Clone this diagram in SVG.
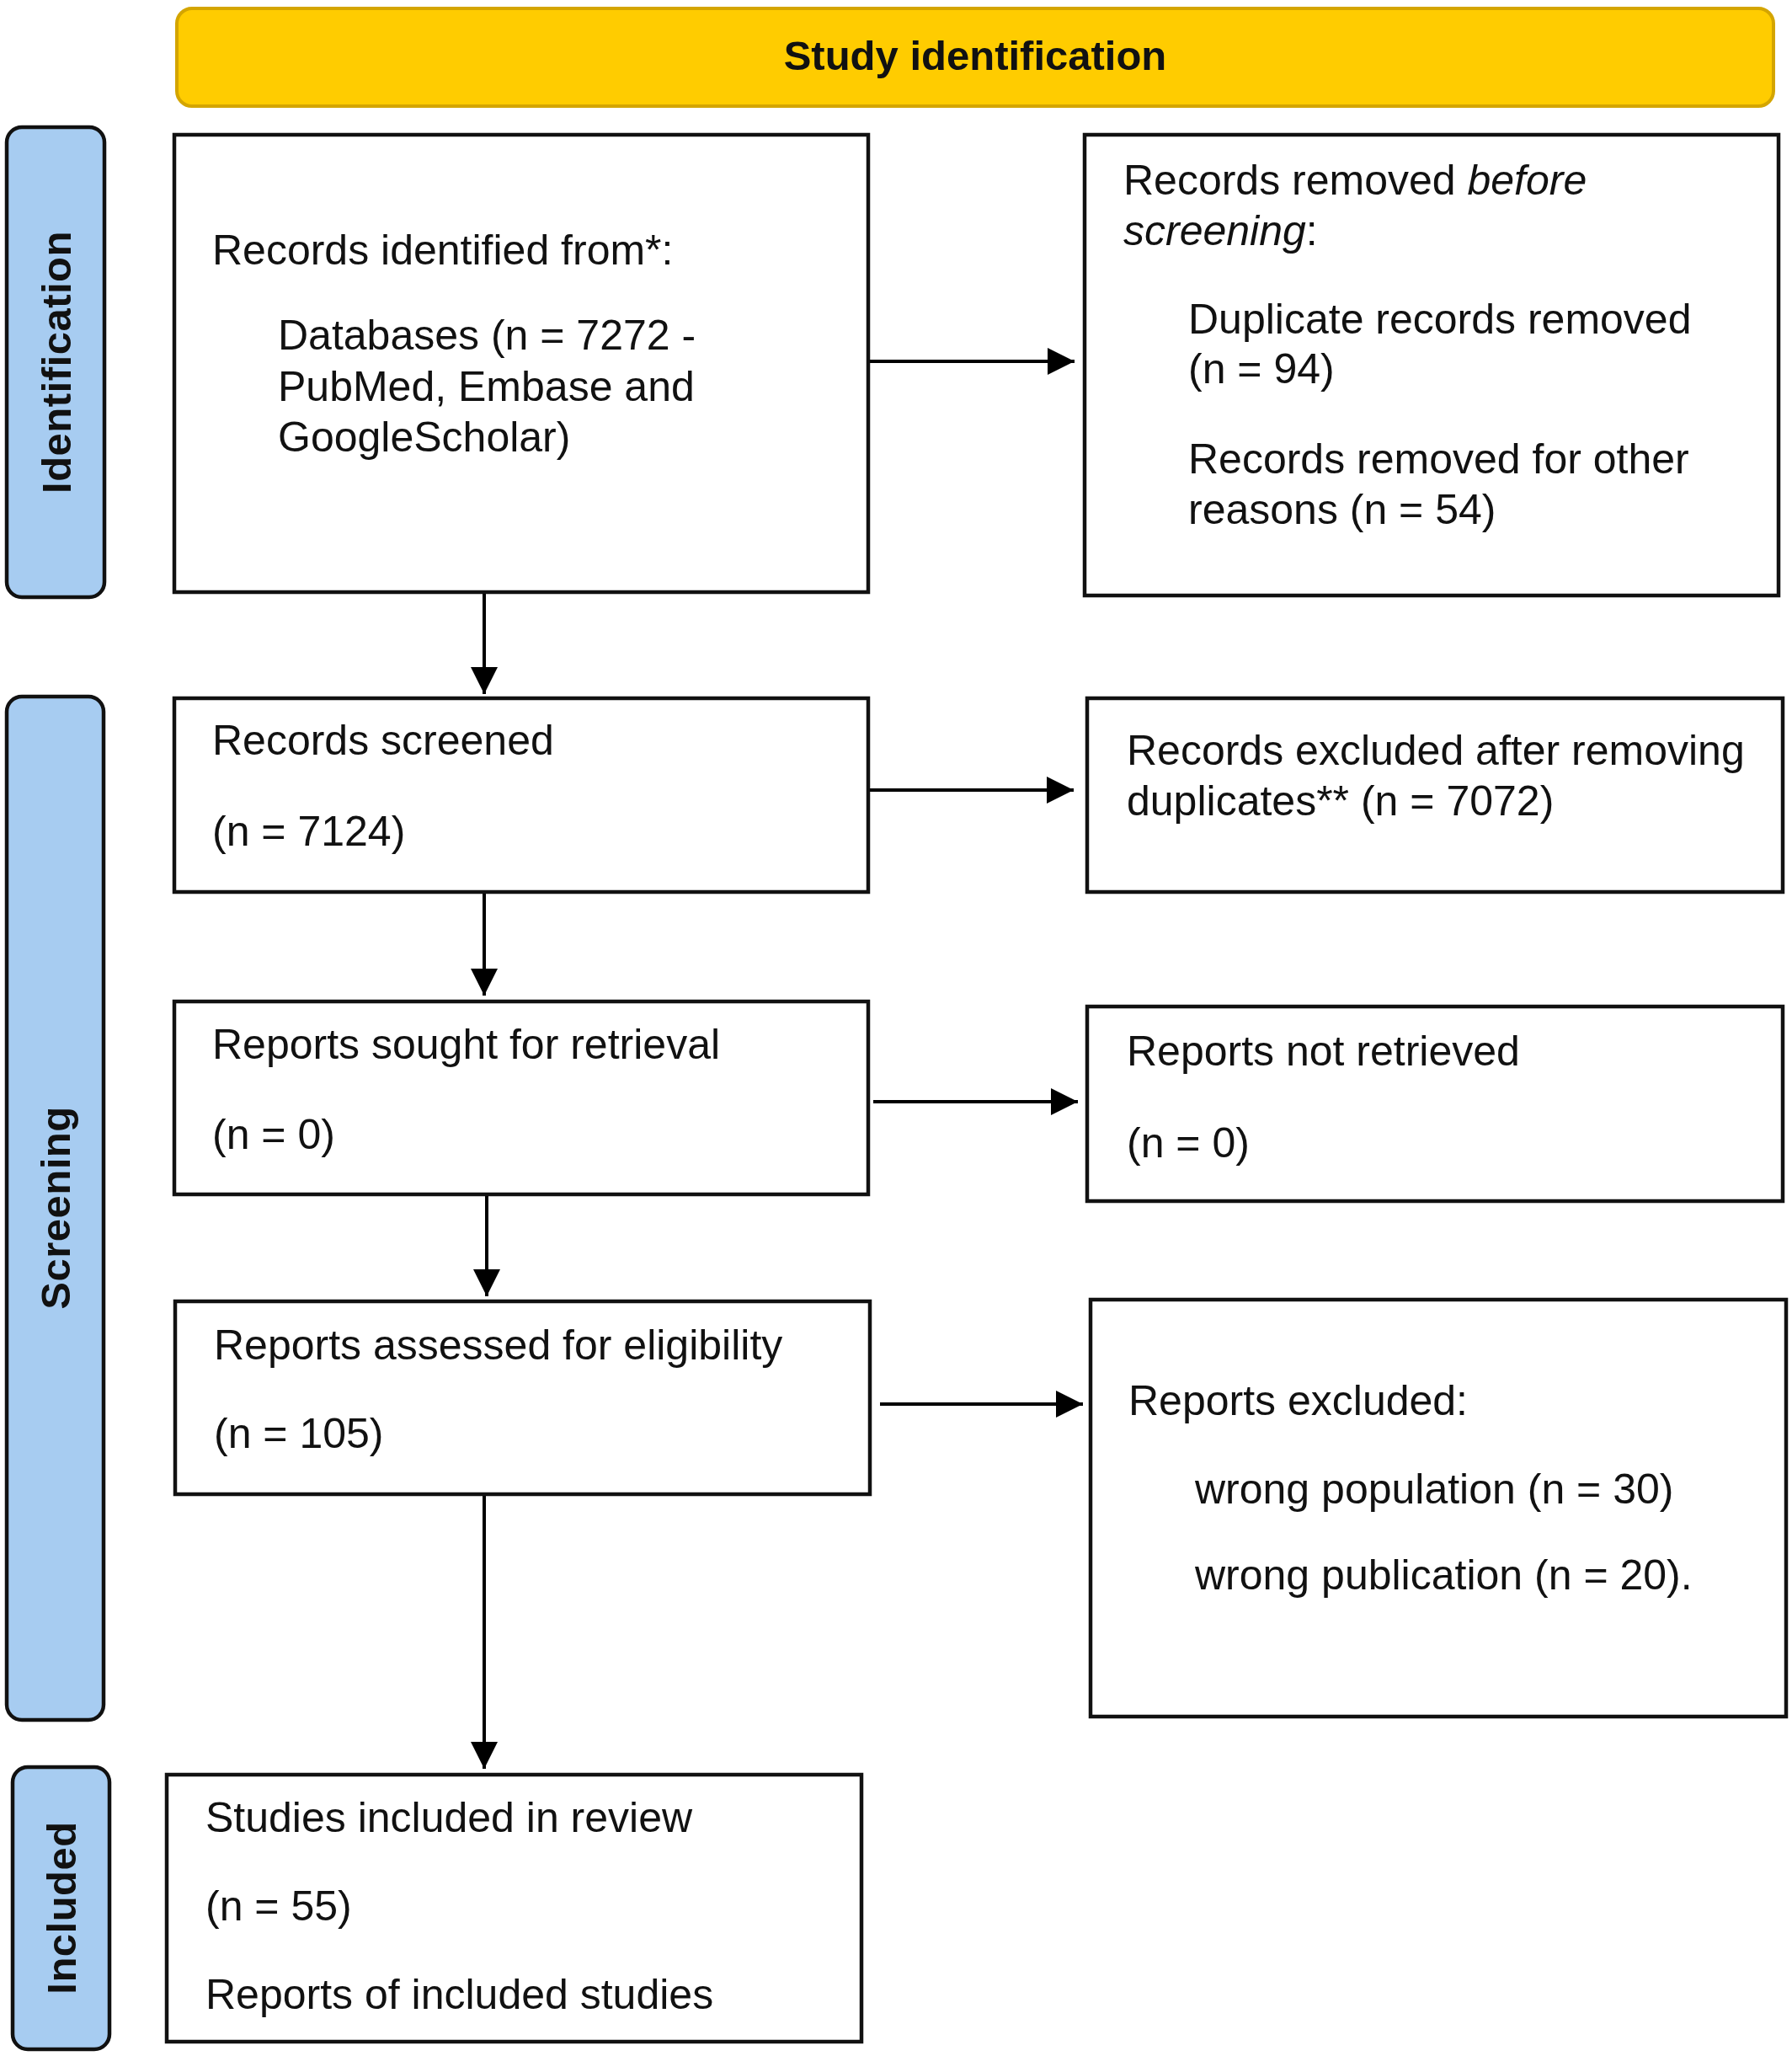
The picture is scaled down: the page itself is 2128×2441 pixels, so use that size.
<svg xmlns="http://www.w3.org/2000/svg" width="2128" height="2441" viewBox="0 0 2128 2441">
<style>
.box{fill:#fff;stroke:#111;stroke-width:4.5}
.side{fill:#A7CCF1;stroke:#111;stroke-width:4.5}
.hdr{fill:#FFCC00;stroke:#D4A500;stroke-width:4}
.t{font-family:"Liberation Sans",Arial,sans-serif;font-size:50px;fill:#111}
.b{font-family:"Liberation Sans",Arial,sans-serif;font-weight:bold;font-size:49px;fill:#111}
.side-t{font-family:"Liberation Sans",Arial,sans-serif;font-weight:bold;font-size:49px;letter-spacing:0.5px;fill:#111;text-anchor:middle}
.c{stroke:#000;stroke-width:4;fill:none}
</style>
<defs>
<marker id="ah" markerUnits="userSpaceOnUse" markerWidth="34" markerHeight="34" viewBox="0 -17 34 34" refX="32" refY="0" orient="auto">
<path d="M0,-16 L32,0 L0,16 z" fill="#000"/>
</marker>
</defs>
<rect width="2128" height="2441" fill="#fff"/>

<g id="header">
<rect class="hdr" x="210" y="10" width="1896" height="116" rx="18"/>
<text class="b" x="1158" y="83" text-anchor="middle">Study identification</text>
</g>

<g id="label-identification">
<rect class="side" x="8" y="151" width="116" height="558" rx="18"/>
<text class="side-t" transform="translate(84,430) rotate(-90)">Identification</text>
</g>
<g id="label-screening">
<rect class="side" x="8" y="827" width="115" height="1215" rx="18"/>
<text class="side-t" transform="translate(83,1434) rotate(-90)">Screening</text>
</g>
<g id="label-included">
<rect class="side" x="15" y="2098" width="115" height="335" rx="18"/>
<text class="side-t" transform="translate(90,2265) rotate(-90)">Included</text>
</g>

<g id="connectors">
<line class="c" x1="1031" y1="429" x2="1276" y2="429" marker-end="url(#ah)"/>
<line class="c" x1="575" y1="703" x2="575" y2="824" marker-end="url(#ah)"/>
<line class="c" x1="1031" y1="938" x2="1275" y2="938" marker-end="url(#ah)"/>
<line class="c" x1="575" y1="1059" x2="575" y2="1182" marker-end="url(#ah)"/>
<line class="c" x1="1037" y1="1308" x2="1280" y2="1308" marker-end="url(#ah)"/>
<line class="c" x1="578" y1="1418" x2="578" y2="1539" marker-end="url(#ah)"/>
<line class="c" x1="1045" y1="1667" x2="1286" y2="1667" marker-end="url(#ah)"/>
<line class="c" x1="575" y1="1774" x2="575" y2="2100" marker-end="url(#ah)"/>
</g>

<g id="records-identified">
<rect class="box" x="207" y="160" width="824" height="543"/>
<text class="t" x="252" y="314">Records identified from*:</text>
<text class="t" x="330" y="415">Databases (n = 7272 -</text>
<text class="t" x="330" y="476">PubMed, Embase and</text>
<text class="t" x="330" y="536">GoogleScholar)</text>
</g>

<g id="records-removed">
<rect class="box" x="1288" y="160" width="824" height="547"/>
<text class="t" x="1334" y="231">Records removed <tspan font-style="italic">before</tspan></text>
<text class="t" x="1334" y="291"><tspan font-style="italic">screening</tspan>:</text>
<text class="t" x="1411" y="396">Duplicate records removed</text>
<text class="t" x="1411" y="455">(n = 94)</text>
<text class="t" x="1411" y="562">Records removed for other</text>
<text class="t" x="1411" y="622">reasons (n = 54)</text>
</g>

<g id="records-screened">
<rect class="box" x="207" y="829" width="824" height="230"/>
<text class="t" x="252" y="896">Records screened</text>
<text class="t" x="252" y="1004">(n = 7124)</text>
</g>

<g id="records-excluded">
<rect class="box" x="1291" y="829" width="826" height="230"/>
<text class="t" x="1338" y="908">Records excluded after removing</text>
<text class="t" x="1338" y="968">duplicates** (n = 7072)</text>
</g>

<g id="reports-sought">
<rect class="box" x="207" y="1189" width="824" height="229"/>
<text class="t" x="252" y="1257">Reports sought for retrieval</text>
<text class="t" x="252" y="1364">(n = 0)</text>
</g>

<g id="reports-not-retrieved">
<rect class="box" x="1291" y="1195" width="826" height="231"/>
<text class="t" x="1338" y="1265">Reports not retrieved</text>
<text class="t" x="1338" y="1374">(n = 0)</text>
</g>

<g id="reports-assessed">
<rect class="box" x="208" y="1545" width="825" height="229"/>
<text class="t" x="254" y="1614">Reports assessed for eligibility</text>
<text class="t" x="254" y="1719">(n = 105)</text>
</g>

<g id="reports-excluded">
<rect class="box" x="1295" y="1543" width="826" height="495"/>
<text class="t" x="1340" y="1680">Reports excluded:</text>
<text class="t" x="1419" y="1785">wrong population (n = 30)</text>
<text class="t" x="1419" y="1887">wrong publication (n = 20).</text>
</g>

<g id="studies-included">
<rect class="box" x="198" y="2107" width="825" height="317"/>
<text class="t" x="244" y="2175">Studies included in review</text>
<text class="t" x="244" y="2280">(n = 55)</text>
<text class="t" x="244" y="2385">Reports of included studies</text>
</g>
</svg>
